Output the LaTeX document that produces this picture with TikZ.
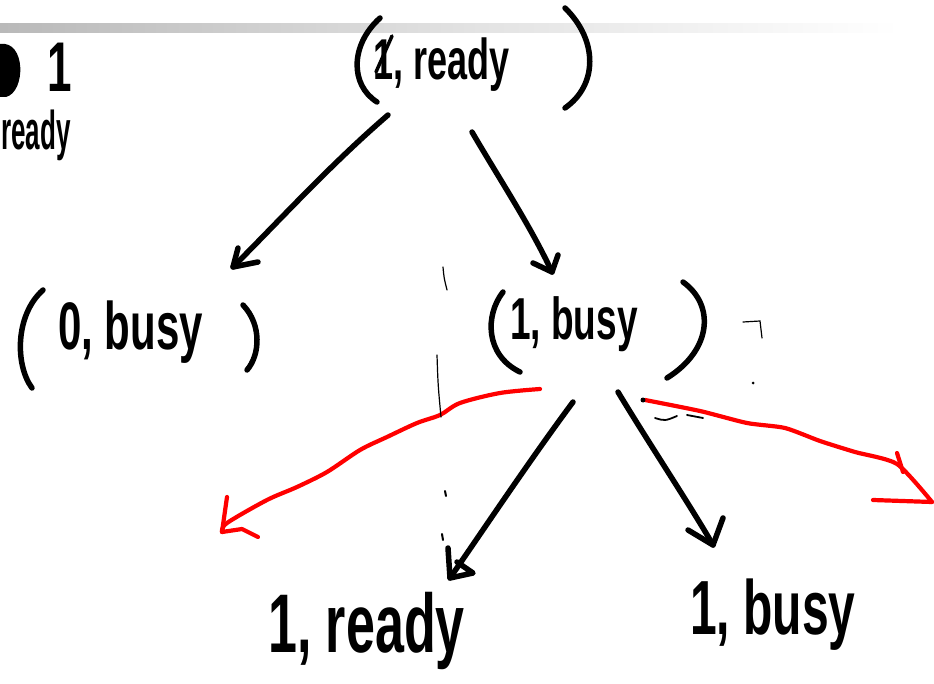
\documentclass[tikz,border=0pt]{standalone}
\usepackage{fontspec}
\setmainfont{Liberation Sans}
\usetikzlibrary{calc}
\tikzset{
  ink/.style={line width=5.5pt, black, line cap=round, line join=round},
  redink/.style={line width=4.2pt, red, line cap=round, line join=round},
  hair/.style={line width=1.2pt, black, line cap=round},
  paren/.style={line width=5.5pt, black, line cap=round},
  word/.style={inner sep=0pt, anchor=base west, font=\bfseries},
}
% tall, hand-lettered looking text
\newcommand{\handscaled}[3]{\fontsize{#1}{#1}\selectfont\scalebox{1}[#2]{#3}}
\newcommand{\hand}[2]{\handscaled{#1}{1.6}{#2}}
\begin{document}
\begin{tikzpicture}[x=1pt,y=-1pt]
\useasboundingbox (0,0) rectangle (934,684);
\clip (0,0) rectangle (934,684);

% slide title rule
\shade[left color=gray!55, right color=gray!22] (0,24) rectangle (480,33);
\shade[left color=gray!22, right color=white] (480,24) rectangle (900,33);

% states
\node[word] (top) at (373,80) {\hand{36}{1, ready}};
\node[word] (zero) at (58,349) {\hand{42}{0, busy}};
\node[word] (one) at (510,340) {\hand{37}{1, busy}};
\node[word] (leafA) at (268,652) {\hand{52}{1, ready}};
\node[word] (leafB) at (690,634) {\hand{48}{1, busy}};
\node[word, anchor=base east] (cornerone) at (72,92) {\hand{44}{1}};
\node[word] (corner) at (1,150) {\handscaled{26}{2.1}{ready}};

% overwritten digits
\draw[ink, line width=3.5pt] (376,72) -- (392,36);
\fill (0,44) .. controls (26,40) and (26,92) .. (6,97) -- (0,97) -- cycle;

% parentheses round the tuples
\draw[paren] (380,18) .. controls (350,45) and (350,85) .. (377,102);
\draw[paren] (565,8) .. controls (598,40) and (598,85) .. (565,108);
\draw[paren] (43,290) .. controls (15,315) and (15,365) .. (32,388);
\draw[paren] (243,305) .. controls (262,325) and (260,355) .. (247,370);
\draw[paren] (503,292) .. controls (485,315) and (485,355) .. (520,372);
\draw[paren] (683,282) .. controls (715,305) and (712,350) .. (667,378);

% connector ends
\coordinate (top-l) at (388,115);
\coordinate (top-r) at (472,132);
\coordinate (zero-in) at (233,267);
\coordinate (one-in) at (552,272);
\coordinate (one-l) at (573,402);
\coordinate (one-r) at (618,392);
\coordinate (leafA-in) at (450,578);
\coordinate (leafB-in) at (713,545);
\coordinate (one-redl) at (540,389);
\coordinate (one-redr) at (645,400);
\coordinate (red-l-tip) at (222,532);
\coordinate (red-r-tip) at (932,502);

% black transitions
\draw[ink] (top-l) .. controls (330,165) and (280,220) .. (zero-in);
\draw[ink] (238,248) -- (zero-in) -- (258,262);
\draw[ink] (top-r) .. controls (500,180) and (530,225) .. (one-in);
\draw[ink] (533,263) -- (one-in) -- (558,255);
\draw[ink] (one-l) .. controls (530,460) and (490,520) .. (leafA-in);
\draw[ink] (448,548) -- (leafA-in) -- (473,573) -- (457,562);
\draw[ink] (one-r) .. controls (650,445) and (690,505) .. (leafB-in);
\draw[ink] (688,530) -- (leafB-in) -- (723,518);

% red transitions
\draw[redink] plot[smooth, tension=0.5] coordinates {(one-redl) (500,393) (460,403) (440,415) (417,423) (387,437) (360,450) (327,472) (297,487) (267,500) (227,523) (red-l-tip)};
\draw[redink] (227,497) -- (red-l-tip) -- (242,529) -- (258,537);
\draw[redink] plot[smooth, tension=0.4] coordinates {(one-redr) (700,411) (747,423) (785,428) (820,441) (855,452) (897,464) (red-r-tip)};
\draw[redink] (897,453) -- (903,472);
\draw[redink] (873,500) -- (red-r-tip);

% stray pen marks
\draw[hair] (443,267) .. controls (444,278) .. (447,290);
\draw[hair] (437,355) .. controls (438,385) .. (441,417);
\draw[hair, line width=2pt] (445,491) -- (446,496);
\draw[hair, line width=2pt] (442,534) -- (443,540);
\draw[hair] (743,322) -- (760,321) -- (762,338);
\fill (753,383) circle (1.5);
\fill (643,400) circle (2.5);
\draw[hair, line width=1.8pt] (655,418) .. controls (665,421) .. (677,416);
\draw[hair, line width=1.8pt] (687,415) -- (703,418);
\end{tikzpicture}
\end{document}
